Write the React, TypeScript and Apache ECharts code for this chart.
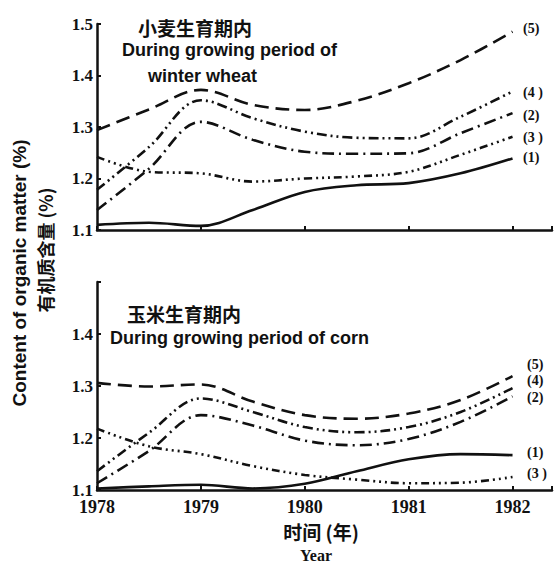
import React, { useEffect, useRef } from "react";
import * as echarts from "echarts";

const years = [1978, 1978.5, 1979, 1979.5, 1980, 1980.5, 1981, 1981.5, 1982];

// Winter wheat period (top panel)
const wheat1 = [1.110, 1.114, 1.108, 1.139, 1.174, 1.187, 1.191, 1.210, 1.239];
const wheat2 = [1.139, 1.219, 1.310, 1.275, 1.252, 1.248, 1.249, 1.288, 1.327];
const wheat3 = [1.242, 1.213, 1.210, 1.194, 1.200, 1.204, 1.213, 1.246, 1.281];
const wheat4 = [1.178, 1.261, 1.352, 1.317, 1.291, 1.279, 1.278, 1.320, 1.369];
const wheat5 = [1.294, 1.334, 1.372, 1.343, 1.333, 1.351, 1.385, 1.430, 1.485];

// Corn period (bottom panel)
const corn1 = [1.103, 1.107, 1.110, 1.103, 1.112, 1.136, 1.159, 1.169, 1.167];
const corn2 = [1.113, 1.175, 1.244, 1.224, 1.195, 1.186, 1.198, 1.231, 1.280];
const corn3 = [1.218, 1.184, 1.169, 1.146, 1.129, 1.120, 1.113, 1.114, 1.125];
const corn4 = [1.136, 1.210, 1.276, 1.250, 1.221, 1.211, 1.221, 1.250, 1.296];
const corn5 = [1.306, 1.299, 1.303, 1.270, 1.244, 1.237, 1.247, 1.273, 1.319];

const yTicks = ["1.1", "1.2", "1.3", "1.4", "1.5"];
const xTicks = ["1978", "1979", "1980", "1981", "1982"];

const INK = "#111";
const dash5 = [14, 7];
const dash4 = [10, 4, 2, 4, 2, 4];
const dash2 = [12, 5, 2, 5];
const dash3 = [8, 4, 2, 4, 2, 4, 2, 4];

const serif = "'Liberation Serif', 'DejaVu Serif', serif";
const sans = "'Liberation Sans', Arial, sans-serif";
const cjk = "'Noto Sans CJK SC', sans-serif";

function mk(arr: number[], idx: number, type: any) {
  return {
    type: "line",
    xAxisIndex: idx,
    yAxisIndex: idx,
    data: years.map((x, i) => [x, arr[i]]),
    symbol: "none",
    showSymbol: false,
    smooth: 0.35,
    lineStyle: { color: INK, width: 2.6, type },
    z: 3,
  };
}

export default function App() {
  const ref = useRef<HTMLDivElement>(null);
  useEffect(() => {
    if (!ref.current) return;
    const chart = echarts.init(ref.current, undefined, { renderer: "svg" });
    const xAxisBase = (idx: number, showLabel: boolean) => ({
      type: "value",
      gridIndex: idx,
      min: 1978,
      max: 1982.38,
      interval: 1,
      axisLine: { show: true, lineStyle: { color: INK, width: 2.5 } },
      axisTick: { show: true, inside: true, length: 4, lineStyle: { color: INK, width: 2 } },
      splitLine: { show: false },
      axisLabel: {
        show: showLabel,
        color: INK,
        fontFamily: serif,
        fontWeight: "bold",
        fontSize: 18,
        margin: 8,
        formatter: (v: number) => {
          const s = String(Math.round(v));
          return Math.abs(v - Math.round(v)) < 1e-6 && xTicks.includes(s) ? s : "";
        },
      },
    });
    const yAxisBase = (idx: number, hideTop: boolean) => ({
      type: "value",
      gridIndex: idx,
      min: 1.1,
      max: 1.5,
      interval: 0.1,
      axisLine: { show: true, lineStyle: { color: INK, width: 2.5 } },
      axisTick: { show: true, inside: true, length: 4, lineStyle: { color: INK, width: 2 } },
      splitLine: { show: false },
      axisLabel: {
        color: INK,
        fontFamily: serif,
        fontWeight: "bold",
        fontSize: 17,
        margin: 4,
        padding: hideTop ? [0, 0, 7, 0] : 0,
        formatter: (v: number) => {
          const s = v.toFixed(1);
          if (hideTop && s === "1.5") return "";
          return yTicks.includes(s) ? s : "";
        },
      },
    });
    const txt = (text: string, x: number, y: number, font: string, align = "left", extra: any = {}) => ({
      type: "text",
      x,
      y,
      ...extra,
      style: { text, font, fill: INK, textAlign: align, textVerticalAlign: "middle" },
      z: 10,
    });
    const lab = `bold 14px ${serif}`;
    chart.setOption({
      animation: false,
      backgroundColor: "#fff",
      grid: [
        { left: 97, top: 24, width: 455, height: 206 },
        { left: 97, top: 282, width: 455, height: 208 },
      ],
      xAxis: [xAxisBase(0, false), xAxisBase(1, true)],
      yAxis: [yAxisBase(0, false), yAxisBase(1, true)],
      series: [
        mk(wheat1, 0, "solid"),
        mk(wheat2, 0, dash2),
        mk(wheat3, 0, dash3),
        mk(wheat4, 0, dash4),
        mk(wheat5, 0, dash5),
        mk(corn1, 1, "solid"),
        mk(corn2, 1, dash2),
        mk(corn3, 1, dash3),
        mk(corn4, 1, dash4),
        mk(corn5, 1, dash5),
      ],
      graphic: [
        txt("小麦生育期内", 138, 27, `bold 19px ${cjk}`),
        txt("During growing period of", 122, 50, `bold 18px ${sans}`),
        txt("winter wheat", 148, 76, `bold 18px ${sans}`),
        txt("玉米生育期内", 127, 313, `bold 19px ${cjk}`),
        txt("During growing period of corn", 110, 338, `bold 18px ${sans}`),
        txt("(5)", 523, 28, lab),
        txt("(4 )", 523, 92, lab),
        txt("(2)", 523, 115, lab),
        txt("(3 )", 523, 137, lab),
        txt("(1)", 523, 157, lab),
        txt("(5)", 527, 364, lab),
        txt("(4)", 527, 380, lab),
        txt("(2)", 527, 397, lab),
        txt("(1)", 527, 452, lab),
        txt("(3 )", 527, 473, lab),
        txt("时间 (年)", 321, 531, `bold 19px ${cjk}`, "center"),
        txt("Year", 316, 555, `bold 16px ${serif}`, "center"),
        txt("Content of organic matter (%)", 19, 273, `bold 19px ${sans}`, "center", { rotation: Math.PI / 2 }),
        txt("有机质含量 (%)", 45, 250, `bold 18px ${cjk}`, "center", { rotation: Math.PI / 2 }),
      ],
    });
    return () => chart.dispose();
  }, []);
  return (
    <div
      ref={ref}
      style={{ position: "fixed", left: 0, top: 0, width: 558, height: 563, background: "#fff" }}
    />
  );
}
